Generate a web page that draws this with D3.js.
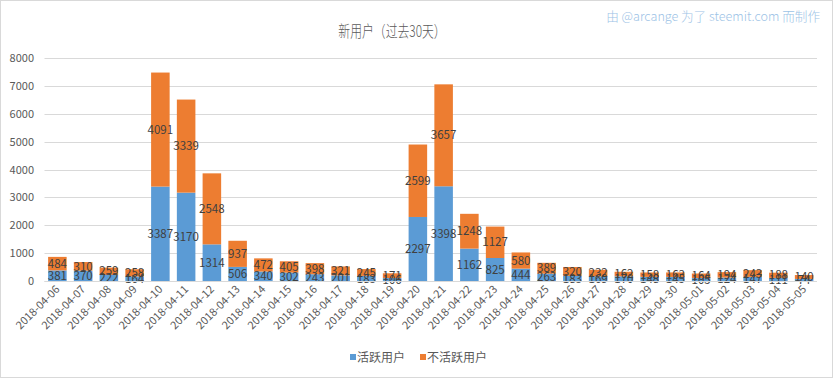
<!DOCTYPE html>
<html><head><meta charset="utf-8">
<script src="https://cdn.jsdelivr.net/npm/d3@7/dist/d3.min.js"></script>
<style>
html,body{margin:0;padding:0;background:#fff;}
svg{display:block;}
</style></head>
<body>
<svg id="chart" width="833" height="379"></svg>
<script>
const dates = ["2018-04-06","2018-04-07","2018-04-08","2018-04-09","2018-04-10","2018-04-11","2018-04-12","2018-04-13","2018-04-14","2018-04-15","2018-04-16","2018-04-17","2018-04-18","2018-04-19","2018-04-20","2018-04-21","2018-04-22","2018-04-23","2018-04-24","2018-04-25","2018-04-26","2018-04-27","2018-04-28","2018-04-29","2018-04-30","2018-05-01","2018-05-02","2018-05-03","2018-05-04","2018-05-05"];
const active = [381,370,222,164,3387,3170,1314,506,340,302,243,201,183,106,2297,3398,1162,825,444,263,183,169,170,148,145,105,124,147,111,74];
const inactive = [484,310,259,258,4091,3339,2548,937,472,405,398,321,245,171,2599,3657,1248,1127,580,389,320,232,162,158,163,164,194,243,188,140];
const yTicks = [0,1000,2000,3000,4000,5000,6000,7000,8000];
const seriesNames = ["活跃用户","不活跃用户"];
const colors = ["#5b9bd5","#ed7d31"];
const titleText = "新用户（过去30天）";
const creditText = "由 @arcange 为了 steemit.com 而制作";

(function(){
const W = 833, H = 379;
const svg = d3.select("#chart");
const font = "'Noto Sans CJK SC','Microsoft YaHei',sans-serif";

svg.append("rect").attr("x",0.5).attr("y",0.5).attr("width",W-1).attr("height",H-2)
  .attr("fill","#fff").attr("stroke","#d9d9d9");

const pL = 44.5, pR = 817, pT = 58, pB = 281;
const x = d3.scaleBand().domain(dates).range([pL,pR]).paddingInner(0.28).paddingOuter(0.14);
const y = d3.scaleLinear().domain([0,8000]).range([pB,pT]);

svg.append("g").selectAll("line").data(yTicks).join("line")
  .attr("x1",pL).attr("x2",pR)
  .attr("y1",d=>Math.round(y(d))+0.5).attr("y2",d=>Math.round(y(d))+0.5)
  .attr("stroke","#d9d9d9").attr("stroke-width",1);

const yAxis = d3.axisLeft(y).tickValues(yTicks).tickFormat(d3.format("d")).tickSize(0).tickPadding(0);
const ya = svg.append("g").attr("transform",`translate(34,0)`).call(yAxis);
ya.select(".domain").remove();
ya.selectAll("text").attr("font-family",font).attr("font-size",11).attr("fill","#595959");

const rows = dates.map((d,i)=>({date:d, a:active[i], b:inactive[i]}));
const stack = d3.stack().keys(["a","b"])(rows);

const g = svg.append("g");
stack.forEach((layer,li)=>{
  g.append("g").selectAll("rect").data(layer).join("rect")
    .attr("x",d=>x(d.data.date)).attr("width",x.bandwidth())
    .attr("y",d=>y(d[1])).attr("height",d=>y(d[0])-y(d[1]))
    .attr("fill",colors[li]);
});
stack.forEach((layer,li)=>{
  g.append("g").selectAll("text").data(layer).join("text")
    .attr("x",d=>x(d.data.date)+x.bandwidth()/2)
    .attr("y",d=>(y(d[0])+y(d[1]))/2)
    .attr("dy","0.36em")
    .attr("text-anchor","middle")
    .attr("font-family",font).attr("font-size",11.5).attr("fill","#404040")
    .text(d=>d[1]-d[0]);
});

const xAxis = d3.axisBottom(x).tickSize(0).tickPadding(0);
const xa = svg.append("g").attr("transform",`translate(0,${pB})`).call(xAxis);
xa.select(".domain").attr("stroke","#d9d9d9").attr("d",`M${pL},0.5H${pR}`);
xa.selectAll("text").attr("font-family",font).attr("font-size",11).attr("fill","#595959")
  .attr("text-anchor","end").attr("dy",0)
  .attr("transform","translate(3,9) rotate(-45)");

svg.append("text").attr("transform","translate(392,37) scale(0.74,1)").attr("text-anchor","middle")
  .attr("font-family",font).attr("font-weight",300).attr("font-size",16).attr("fill","#595959")
  .text(titleText);
svg.append("text").attr("x",820).attr("y",21).attr("text-anchor","end")
  .attr("font-family",font).attr("font-weight",300).attr("font-size",12.6).attr("fill","#9dc3e6")
  .text(creditText);

const legX = [350,420];
seriesNames.forEach((n,i)=>{
  svg.append("rect").attr("x",legX[i]).attr("y",354).attr("width",6).attr("height",6).attr("fill",colors[i]);
  svg.append("text").attr("x",legX[i]+7).attr("y",362).attr("font-family",font).attr("font-size",12)
    .attr("fill","#595959").text(n);
});
})();
</script>
</body></html>
